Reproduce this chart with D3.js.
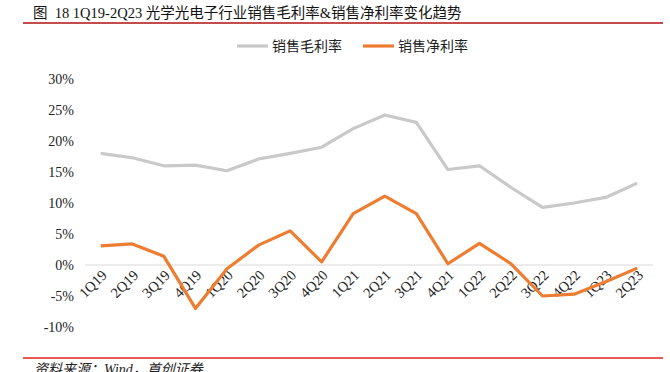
<!DOCTYPE html>
<html>
<head>
<meta charset="utf-8">
<script src="https://cdn.jsdelivr.net/npm/d3@7"></script>
<style>
  body { margin: 0; background: #fff; }
  svg { display: block; }
</style>
</head>
<body>
<svg id="chart" width="670" height="372"></svg>
<script>
const quarters = ['1Q19', '2Q19', '3Q19', '4Q19', '1Q20', '2Q20', '3Q20', '4Q20', '1Q21', '2Q21',
  '3Q21', '4Q21', '1Q22', '2Q22', '3Q22', '4Q22', '1Q23', '2Q23'];
// 销售毛利率 (%)
const grossMargin = [18.0, 17.3, 16.0, 16.1, 15.2, 17.1, 18.0, 19.0, 22.0, 24.2,
  23.0, 15.4, 16.0, 12.5, 9.3, 10.0, 10.9, 13.2];
// 销售净利率 (%)
const netMargin = [3.1, 3.4, 1.4, -7.0, -0.6, 3.2, 5.5, 0.5, 8.3, 11.1,
  8.3, 0.2, 3.5, 0.2, -5.0, -4.7, -2.7, -0.5];
const yTicks = [30, 25, 20, 15, 10, 5, 0, -5, -10];

const series = [
  { name: '销售毛利率', values: grossMargin, color: '#c9c9c9' },
  { name: '销售净利率', values: netMargin, color: '#ed7d31' }
];

const svg = d3.select('#chart');
const cjk = '"Noto Sans CJK SC", "Microsoft YaHei", sans-serif';
const serif = '"Liberation Serif", "Times New Roman", serif';
const mixed = '"Liberation Serif", "Noto Sans CJK SC", serif';

// title
svg.append('text')
  .attr('x', 33).attr('y', 18)
  .attr('font-family', mixed).attr('font-size', 14.5).attr('fill', '#111')
  .attr('xml:space', 'preserve')
  .text('图  18 1Q19-2Q23 光学光电子行业销售毛利率&销售净利率变化趋势');
svg.append('line')
  .attr('x1', 23).attr('x2', 663).attr('y1', 23).attr('y2', 23)
  .attr('stroke', '#b01010').attr('stroke-width', 1.5);

// footer
svg.append('line')
  .attr('x1', 23).attr('x2', 663).attr('y1', 358).attr('y2', 358)
  .attr('stroke', '#e02020').attr('stroke-width', 1.5);
svg.append('text')
  .attr('x', 34).attr('y', 374)
  .attr('font-family', mixed).attr('font-size', 14).attr('font-style', 'italic').attr('fill', '#222')
  .text('资料来源：Wind，首创证券');

const x = d3.scaleBand().domain(quarters).range([85, 653]);
const y = d3.scaleLinear().domain([-10, 30]).range([327, 79]);

// zero line
svg.append('line')
  .attr('x1', 85).attr('x2', 653).attr('y1', y(0)).attr('y2', y(0))
  .attr('stroke', '#d9d9d9').attr('stroke-width', 1);

// y axis labels
const yAxis = svg.append('g')
  .attr('transform', 'translate(74,0)')
  .call(d3.axisLeft(y).tickValues(yTicks).tickSize(0).tickFormat(d => d + '%'));
yAxis.select('.domain').remove();
yAxis.selectAll('text')
  .attr('font-family', serif).attr('font-size', 14).attr('fill', '#222').attr('x', 0);

// x axis labels
const xAxis = svg.append('g')
  .attr('transform', `translate(0,${y(0)})`)
  .call(d3.axisBottom(x).tickSize(0));
xAxis.select('.domain').remove();
xAxis.selectAll('text')
  .attr('font-family', serif).attr('font-size', 14.5).attr('fill', '#222')
  .attr('text-anchor', 'end')
  .attr('dy', 0).attr('y', 0)
  .attr('transform', 'translate(7,11) rotate(-45)');

// lines
const line = d3.line()
  .x((d, i) => x(quarters[i]) + x.bandwidth() / 2)
  .y(d => y(d));

svg.append('g').selectAll('path')
  .data(series)
  .join('path')
  .attr('d', d => line(d.values))
  .attr('fill', 'none')
  .attr('stroke', d => d.color)
  .attr('stroke-width', 3.2)
  .attr('stroke-linejoin', 'round');

// legend
const legendX = [237, 363];
const legend = svg.append('g').selectAll('g')
  .data(series)
  .join('g')
  .attr('transform', (d, i) => `translate(${legendX[i]},46)`);
legend.append('line')
  .attr('x1', 0).attr('x2', 31)
  .attr('stroke', d => d.color).attr('stroke-width', 3.2);
legend.append('text')
  .attr('x', 35).attr('y', 5)
  .attr('font-family', cjk).attr('font-size', 14).attr('fill', '#222')
  .text(d => d.name);
</script>
</body>
</html>
